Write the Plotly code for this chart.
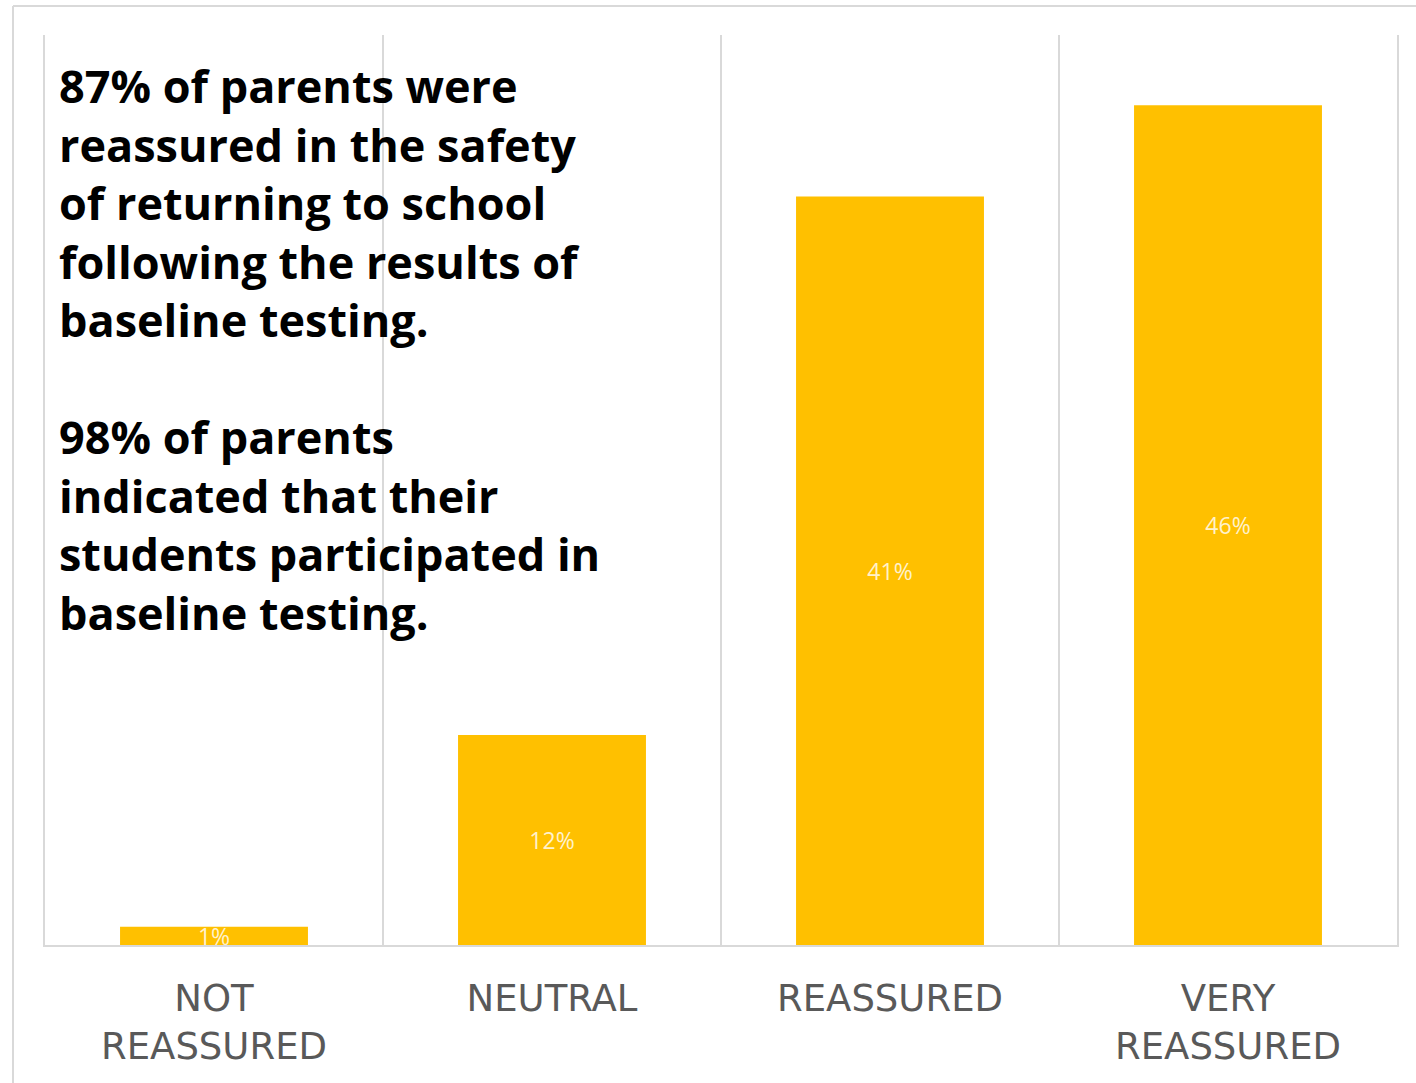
import plotly.graph_objects as go

categories = ["NOT<br>REASSURED", "NEUTRAL", "REASSURED", "VERY<br>REASSURED"]
values = [1, 11.5, 41, 46]
bar_labels = ["1%", "12%", "41%", "46%"]

note_lines = [
    "87% of parents were",
    "reassured in the safety",
    "of returning to school",
    "following the results of",
    "baseline testing.",
    "",
    "98% of parents",
    "indicated that their",
    "students participated in",
    "baseline testing.",
]

W, H = 1416, 1083
ml, mr, mt, mb = 45, 19, 35, 138
pw, ph = W - ml - mr, H - mt - mb

def px(x):
    return (x - ml) / pw

def py(y):
    return (H - mb - y) / ph

fig = go.Figure(
    go.Bar(
        x=categories,
        y=values,
        text=bar_labels,
        textposition="inside",
        insidetextanchor="middle",
        constraintext="none",
        textfont=dict(family="Open Sans", size=23, color="#fff2cc"),
        marker=dict(color="#FFC000", line=dict(width=0)),
        hoverinfo="skip",
    )
)

fig.update_layout(
    width=W,
    height=H,
    margin=dict(l=ml, r=mr, t=mt, b=mb),
    paper_bgcolor="white",
    plot_bgcolor="white",
    bargap=0.444,
    showlegend=False,
    xaxis=dict(
        tickson="boundaries",
        showgrid=True,
        gridcolor="#d9d9d9",
        gridwidth=1.5,
        showline=True,
        linecolor="#d9d9d9",
        linewidth=1.5,
        ticks="",
        ticklabelstandoff=20,
        tickfont=dict(family="DejaVu Sans", size=37, color="#595959"),
    ),
    yaxis=dict(
        range=[0, 49.85],
        showticklabels=False,
        ticks="",
        showgrid=False,
        zeroline=False,
        showline=True,
        mirror=True,
        linecolor="#d9d9d9",
        linewidth=1.5,
    ),
    annotations=[
        dict(
            text="<br>".join(note_lines),
            xref="paper",
            yref="paper",
            x=px(57),
            y=py(53),
            xanchor="left",
            yanchor="top",
            align="left",
            showarrow=False,
            font=dict(family="Open Sans", size=45, color="black", weight="bold"),
        )
    ],
    shapes=[
        dict(type="line", xref="paper", yref="paper",
             x0=px(13), x1=px(W + 5), y0=py(6), y1=py(6),
             line=dict(color="#d9d9d9", width=2)),
        dict(type="line", xref="paper", yref="paper",
             x0=px(13), x1=px(13), y0=py(6), y1=py(H + 5),
             line=dict(color="#d9d9d9", width=2)),
    ],
)

fig.write_html(
    "out.html",
    config={"displayModeBar": False},
    post_script="document.body.style.margin='0';document.body.style.overflow='hidden';",
)
